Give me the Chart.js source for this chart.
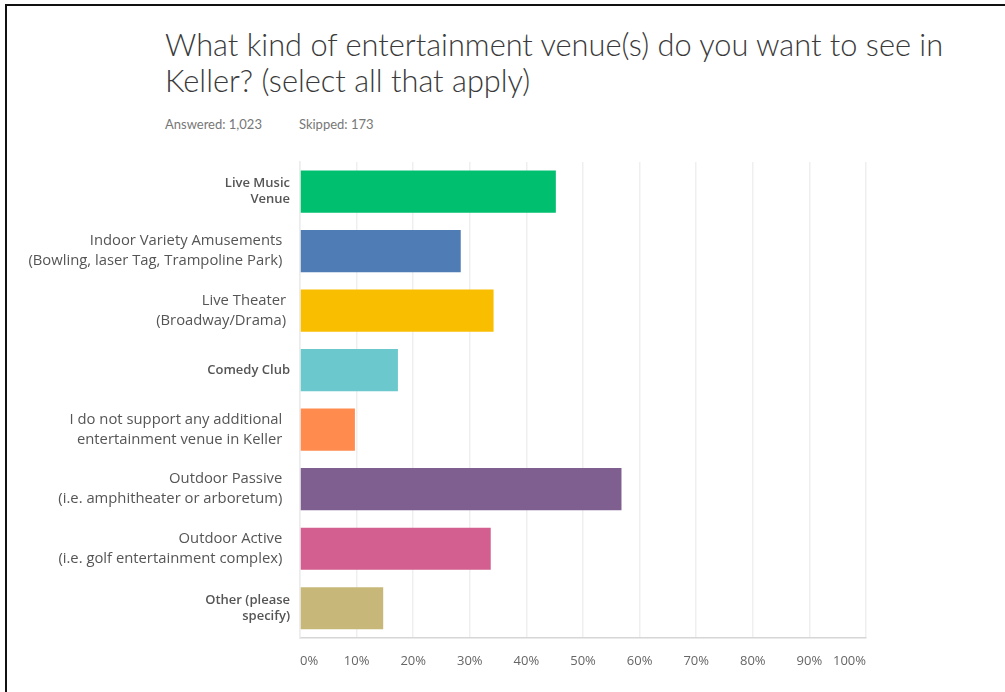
<!DOCTYPE html>
<html>
<head>
<meta charset="utf-8">
<script src="https://cdn.jsdelivr.net/npm/chart.js@4.4.1/dist/chart.umd.min.js"></script>
<style>
  html, body { margin: 0; padding: 0; background: #fff; }
  body { width: 1005px; height: 692px; position: relative; overflow: hidden; }
  #frame {
    position: absolute; left: 5px; top: 4px; right: 0; bottom: 0;
    border-top: 2px solid #111; border-left: 2px solid #111;
  }
  #title {
    position: absolute; left: 165px; top: 27px;
    font-family: Lato, "Open Sans", sans-serif; font-weight: 300;
    font-size: 30px; line-height: 36px; color: #3a3a3a;
    white-space: nowrap;
  }
  #stats {
    position: absolute; left: 165px; top: 116px;
    font-family: Lato, "Open Sans", sans-serif;
    font-size: 13px; color: #777; white-space: nowrap;
  }
  #stats span { margin-right: 37px; }
  #chart-box { position: absolute; left: 0; top: 136px; width: 1005px; height: 556px; }
</style>
</head>
<body>
<div id="frame"></div>
<div id="title"><span id="title-1">What kind of entertainment venue(s) do you want to see in</span><br>Keller? (select all that apply)</div>
<div id="stats"><span>Answered: 1,023</span><span>Skipped: 173</span></div>
<div id="chart-box"><canvas id="venue-chart"></canvas></div>

<script>
// Answer choices (multi-line labels as on the survey)
const categories = [
  ["Live Music", "Venue"],
  ["Indoor Variety Amusements  ", "(Bowling, laser Tag, Trampoline Park)  "],
  ["Live Theater ", "(Broadway/Drama) "],
  "Comedy Club",
  ["I do not support any additional  ", "entertainment venue in Keller  "],
  ["Outdoor Passive  ", "(i.e. amphitheater or arboretum)  "],
  ["Outdoor Active  ", "(i.e. golf entertainment complex)  "],
  ["Other (please", "specify)"]
];

// Share of respondents, in percent
const responses = [45.2, 28.4, 34.2, 17.3, 9.7, 56.8, 33.7, 14.7];

const barColors = ["#00bf6f", "#507cb6", "#f9be00", "#6bc8cd", "#ff8b4f", "#7f5f90", "#d25f90", "#c7b879"];

const tickValues = [0, 10, 20, 30, 40, 50, 60, 70, 80, 90, 100];

// these answer labels are set smaller and bolder on the survey page
const compactLabels = [0, 3, 7];

// stretch the first title line to the width it has on the survey page
const titleLine = document.getElementById("title-1");
const titleBox = document.getElementById("title");
const w = titleLine.getBoundingClientRect().width;
titleBox.style.fontSize = (30 * 778 / w).toFixed(2) + "px";

const ctx = document.getElementById("venue-chart").getContext("2d");
new Chart(ctx, {
  type: "bar",
  data: {
    labels: categories,
    datasets: [{
      data: responses,
      backgroundColor: barColors,
      borderWidth: 0,
      barPercentage: 0.71,
      categoryPercentage: 1
    }]
  },
  options: {
    indexAxis: "y",
    responsive: true,
    maintainAspectRatio: false,
    animation: false,
    layout: { padding: { left: 0, right: 139, top: 0, bottom: 14 } },
    plugins: {
      legend: { display: false },
      tooltip: { enabled: false }
    },
    scales: {
      x: {
        min: 0,
        max: 100,
        afterBuildTicks: (scale) => {
          scale.ticks = tickValues.map((v) => ({ value: v }));
        },
        afterFit: (scale) => { scale.height = 40; },
        grid: { color: "#efefef", lineWidth: 1.5, drawTicks: false },
        border: { display: true, color: "#d6d6d6", width: 1.5 },
        ticks: {
          align: "inner",
          padding: 15,
          color: "#666",
          font: { family: "Open Sans", size: 13 },
          callback: (value) => value + "%"
        }
      },
      y: {
        afterFit: (scale) => { scale.width = 300; },
        grid: { display: false, drawTicks: false },
        border: { display: true, color: "#ececec", width: 1.5 },
        ticks: {
          padding: 10,
          color: "#555",
          font: (c) => compactLabels.includes(c.index)
            ? { family: "Open Sans", size: 13, weight: "600", lineHeight: 1.23 }
            : { family: "Open Sans", size: 14.8, lineHeight: 1.35 }
        }
      }
    }
  }
});
</script>
</body>
</html>
